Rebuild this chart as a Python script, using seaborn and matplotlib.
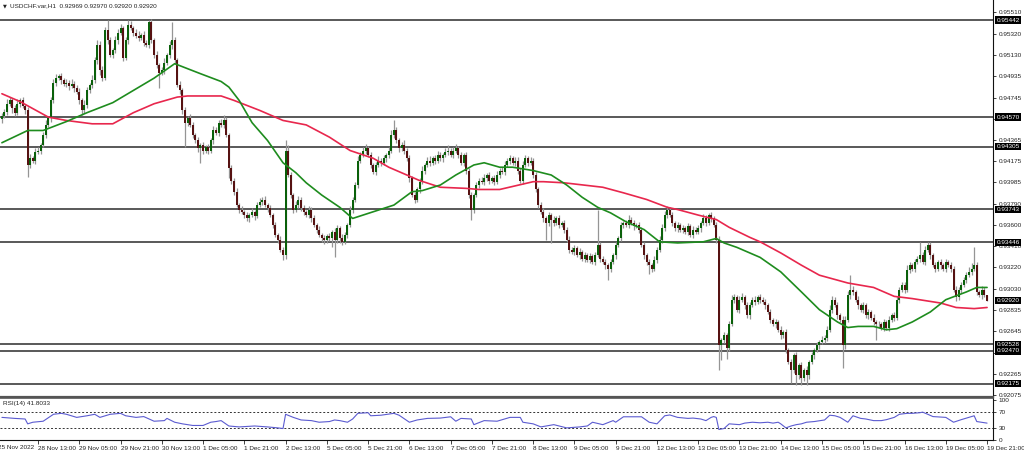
import matplotlib
matplotlib.use("Agg")
import matplotlib.pyplot as plt
import numpy as np
import pandas as pd
import seaborn as sns

# %%
# chart data (prices in 1e-4 units)
first_open = 9455
close_pips = [
    9458, 9462, 9469, 9472, 9465, 9461, 9469, 9472, 9467, 9463,
    9414, 9420, 9418, 9426, 9427, 9432, 9441, 9450, 9456, 9472,
    9488, 9492, 9494, 9490, 9487, 9488, 9485, 9487, 9483, 9480,
    9472, 9463, 9468, 9481, 9486, 9490, 9508, 9522, 9499, 9492,
    9535, 9526, 9513, 9517, 9526, 9533, 9537, 9510, 9526, 9540,
    9537, 9533, 9530, 9528, 9531, 9524, 9522, 9542, 9526, 9513,
    9504, 9497, 9499, 9506, 9513, 9522, 9526, 9508, 9486, 9481,
    9463, 9452, 9456, 9450, 9441, 9436, 9429, 9432, 9427, 9430,
    9427, 9436, 9445, 9443, 9452, 9450, 9454, 9441, 9411, 9400,
    9390, 9378, 9374, 9372, 9369, 9366, 9369, 9372, 9368, 9378,
    9381, 9383, 9378, 9375, 9369, 9360, 9351, 9347, 9338, 9333,
    9427, 9405, 9387, 9374, 9378, 9383, 9375, 9372, 9369, 9374,
    9366, 9360, 9356, 9351, 9348, 9347, 9350, 9348, 9354, 9347,
    9357, 9348, 9345, 9351, 9360, 9374, 9383, 9396, 9418, 9423,
    9427, 9429, 9423, 9414, 9408, 9414, 9418, 9416, 9420, 9423,
    9427, 9441, 9445, 9436, 9429, 9432, 9427, 9420, 9402, 9387,
    9383, 9392, 9399, 9409, 9414, 9418, 9416, 9420, 9418, 9423,
    9420, 9423, 9426, 9427, 9423, 9427, 9429, 9423, 9416, 9423,
    9409, 9387, 9374, 9387, 9396, 9400, 9399, 9402, 9405, 9400,
    9402, 9399, 9405, 9409, 9408, 9414, 9418, 9420, 9416, 9418,
    9409, 9400, 9414, 9420, 9416, 9418, 9405, 9392, 9378, 9372,
    9366, 9362, 9369, 9365, 9362, 9366, 9360, 9362, 9356, 9347,
    9338, 9336, 9339, 9333, 9336, 9330, 9333, 9329, 9332, 9327,
    9333, 9342, 9330, 9327, 9324, 9321, 9327, 9333, 9342, 9348,
    9360, 9362, 9360, 9365, 9362, 9359, 9360, 9356, 9342, 9333,
    9327, 9324, 9321, 9329, 9338, 9347, 9357, 9369, 9374, 9369,
    9362, 9357, 9360, 9356, 9357, 9354, 9359, 9351, 9356, 9354,
    9357, 9362, 9366, 9362, 9369, 9366, 9360, 9347, 9252, 9257,
    9261, 9250, 9271, 9293, 9295, 9284, 9293, 9295, 9288, 9279,
    9288, 9293, 9291, 9295, 9293, 9291, 9288, 9282, 9275, 9271,
    9273, 9266, 9261, 9264, 9248, 9237, 9230, 9243, 9225, 9234,
    9223, 9230, 9225, 9237, 9243, 9248, 9252, 9255, 9257, 9259,
    9266, 9284, 9293, 9288, 9279, 9275, 9252, 9275, 9297, 9302,
    9300, 9293, 9288, 9284, 9288, 9279, 9282, 9277, 9273, 9271,
    9271, 9268, 9273, 9268, 9275, 9279, 9277, 9293, 9302, 9306,
    9302, 9320, 9324, 9321, 9327, 9330, 9333, 9327, 9338, 9342,
    9333, 9324, 9321, 9327, 9324, 9321, 9327, 9324, 9321, 9302,
    9295, 9302, 9306, 9311, 9315, 9318, 9321, 9324, 9300, 9297,
    9302, 9297, 9292,
]
upper_wick_pips = [
    3, 2, 4, 3, 2, 3, 4, 2, 3, 2, 3, 4, 2, 3, 3, 2, 3, 4, 2, 3,
    3, 4, 2, 3, 2, 3, 2, 4, 2, 3, 3, 2, 4, 3, 2, 5, 3, 4, 3, 4,
    3, 9, 3, 2, 4, 3, 4, 2, 3, 4, 3, 2, 3, 4, 2, 3, 2, 2, 3, 2,
    3, 2, 3, 4, 2, 3, 16, 3, 2, 3, 2, 3, 2, 4, 3, 2, 3, 2, 3, 2,
    3, 2, 4, 3, 2, 3, 5, 3, 2, 3, 2, 3, 2, 3, 2, 3, 2, 3, 2, 3,
    3, 2, 3, 2, 3, 2, 3, 2, 3, 2, 9, 5, 3, 2, 4, 3, 2, 3, 2, 3,
    2, 3, 2, 3, 2, 3, 2, 3, 2, 3, 3, 2, 4, 3, 2, 3, 2, 3, 4, 3,
    3, 4, 2, 3, 2, 3, 4, 2, 3, 2, 3, 4, 9, 3, 2, 3, 4, 2, 3, 2,
    3, 2, 3, 4, 2, 3, 4, 2, 3, 4, 3, 2, 3, 5, 2, 3, 4, 2, 3, 2,
    3, 2, 3, 2, 3, 2, 3, 4, 2, 3, 2, 3, 4, 2, 3, 4, 2, 3, 2, 3,
    3, 2, 4, 3, 2, 3, 2, 3, 2, 3, 3, 2, 3, 2, 3, 2, 3, 2, 3, 2,
    3, 2, 3, 2, 3, 2, 3, 2, 3, 2, 3, 32, 3, 2, 3, 2, 3, 2, 3, 2,
    3, 2, 3, 4, 2, 3, 2, 3, 2, 3, 2, 3, 2, 3, 2, 3, 4, 4, 3, 2,
    3, 2, 3, 2, 3, 2, 3, 2, 3, 2, 3, 2, 4, 3, 2, 3, 2, 3, 3, 2,
    3, 2, 3, 4, 3, 2, 3, 4, 2, 3, 3, 2, 3, 2, 3, 2, 3, 2, 3, 2,
    3, 2, 3, 2, 3, 2, 3, 2, 3, 2, 3, 2, 3, 2, 3, 2, 3, 2, 3, 2,
    3, 4, 3, 2, 3, 2, 3, 3, 4, 13, 3, 2, 3, 2, 3, 2, 3, 2, 3, 2,
    3, 2, 3, 2, 3, 2, 3, 3, 2, 3, 3, 4, 3, 2, 3, 2, 12, 3, 3, 3,
    3, 2, 3, 2, 3, 2, 3, 2, 3, 2, 3, 2, 3, 2, 3, 4, 5, 16, 3, 2,
    3, 2, 0,
]
lower_wick_pips = [
    3, 2, 3, 2, 4, 3, 2, 3, 2, 3, 11, 3, 2, 3, 2, 3, 2, 3, 2, 3,
    2, 3, 2, 3, 2, 3, 4, 2, 3, 2, 3, 4, 2, 3, 2, 3, 2, 3, 4, 3,
    2, 3, 2, 3, 2, 3, 2, 3, 2, 3, 2, 3, 2, 3, 2, 3, 2, 3, 2, 3,
    3, 14, 2, 3, 2, 3, 4, 3, 2, 3, 3, 22, 3, 2, 3, 2, 3, 13, 3, 2,
    3, 2, 3, 2, 3, 2, 3, 2, 9, 3, 3, 2, 3, 2, 3, 2, 3, 2, 3, 2,
    2, 3, 2, 3, 2, 3, 2, 3, 2, 4, 3, 2, 3, 3, 2, 3, 2, 3, 2, 3,
    3, 2, 3, 2, 3, 4, 3, 2, 8, 16, 3, 4, 3, 2, 3, 2, 3, 2, 3, 2,
    2, 3, 2, 3, 2, 3, 2, 3, 2, 3, 3, 2, 3, 2, 3, 2, 3, 2, 3, 2,
    3, 2, 3, 2, 3, 2, 3, 2, 3, 2, 2, 3, 2, 3, 2, 3, 2, 3, 2, 3,
    3, 3, 9, 3, 2, 3, 2, 3, 2, 3, 2, 3, 2, 3, 2, 3, 2, 3, 2, 3,
    3, 2, 3, 2, 3, 2, 3, 2, 3, 2, 3, 15, 3, 21, 3, 2, 3, 2, 3, 2,
    3, 2, 3, 2, 3, 2, 3, 2, 3, 2, 3, 2, 3, 2, 3, 10, 3, 2, 3, 2,
    2, 3, 2, 3, 2, 3, 2, 3, 2, 3, 3, 8, 3, 2, 3, 2, 3, 2, 3, 2,
    3, 2, 3, 2, 3, 2, 3, 2, 3, 2, 2, 3, 2, 3, 2, 3, 2, 3, 22, 13,
    3, 10, 3, 2, 3, 2, 3, 2, 3, 2, 3, 2, 3, 2, 3, 2, 3, 2, 3, 2,
    3, 2, 3, 2, 3, 2, 12, 3, 9, 3, 7, 3, 9, 3, 2, 3, 2, 3, 2, 3,
    3, 2, 3, 2, 3, 2, 20, 3, 2, 3, 3, 2, 3, 2, 3, 2, 3, 2, 3, 14,
    3, 2, 3, 2, 3, 2, 3, 2, 3, 2, 3, 2, 3, 2, 3, 2, 3, 2, 3, 2,
    3, 2, 3, 2, 3, 2, 3, 2, 3, 2, 3, 2, 3, 2, 3, 2, 3, 2, 3, 2,
    3, 2, 0,
]

# moving averages (green = fast, red = slow), sampled along the bars
ma_fast_bar = [0, 10, 16, 25, 33, 43, 51, 59, 67, 77, 85, 88, 92, 97, 103, 109, 114, 118, 124, 131,
               136, 144, 152, 159, 163, 170, 176, 183, 187, 193, 198, 206, 213, 219, 225, 231, 236, 242, 249, 255,
               262, 272, 277, 280, 285, 290, 294, 302, 310, 317, 324, 328, 332, 338, 343, 347, 353, 360, 366, 374,
               378, 382]
ma_fast_pips = [9434, 9445, 9445, 9453, 9461, 9470, 9481, 9492, 9505, 9496, 9489, 9484, 9472, 9452, 9436, 9416, 9407, 9398, 9387, 9376,
                9366, 9372, 9378, 9390, 9391, 9396, 9405, 9414, 9416, 9412, 9412, 9409, 9405, 9396, 9385, 9376, 9371, 9363, 9356, 9345,
                9344, 9345, 9348, 9344, 9340, 9335, 9331, 9318, 9300, 9284, 9273, 9268, 9269, 9269, 9266, 9267, 9273, 9282, 9293, 9300,
                9304, 9304]
ma_slow_bar = [0, 7, 18, 25, 35, 43, 51, 59, 68, 72, 85, 90, 100, 109, 118, 127, 135, 144, 150, 157,
               162, 170, 180, 185, 193, 206, 210, 218, 233, 241, 250, 258, 262, 270, 277, 282, 290, 294, 302, 310,
               317, 328, 338, 346, 353, 364, 370, 377, 382]
ma_slow_pips = [9478, 9471, 9457, 9454, 9451, 9451, 9461, 9469, 9475, 9476, 9476, 9472, 9463, 9454, 9450, 9439, 9427, 9420, 9412, 9405,
                9400, 9394, 9393, 9392, 9392, 9399, 9399, 9398, 9394, 9389, 9383, 9376, 9374, 9369, 9365, 9358, 9349, 9345, 9335, 9324,
                9315, 9308, 9304, 9296, 9294, 9290, 9286, 9285, 9286]

# RSI(14)
rsi_bar = [0, 5, 9, 10, 12, 16, 20, 23, 25, 29, 33, 36, 38, 42, 46, 48, 52, 55, 59, 63,
           64, 67, 70, 74, 78, 81, 83, 85, 88, 92, 98, 103, 107, 109, 110, 113, 116, 120, 123, 127,
           129, 131, 134, 136, 138, 142, 143, 147, 152, 154, 158, 161, 165, 170, 174, 176, 178, 182, 183, 187,
           192, 197, 201, 202, 206, 209, 214, 219, 224, 227, 229, 233, 237, 238, 241, 248, 251, 254, 257, 259,
           262, 266, 268, 271, 273, 275, 276, 277, 278, 280, 282, 286, 288, 291, 294, 297, 299, 301, 302, 304,
           306, 308, 310, 312, 315, 319, 321, 323, 325, 328, 330, 333, 335, 338, 341, 343, 346, 348, 351, 353,
           356, 357, 359, 361, 366, 369, 372, 375, 377, 378, 382]
rsi_val = [56, 53.5, 52, 40, 44, 46.5, 63.7, 66, 63.7, 56, 60, 63.7, 56, 63.7, 66, 60, 56, 58, 46.5, 48,
           53.5, 44, 40, 36, 36, 44, 45.7, 48, 34.7, 32.4, 34.7, 32.4, 30, 28.4, 63.7, 56, 49.6, 48, 44, 45.7,
           49.6, 48, 44, 52, 66, 67.6, 60, 61.4, 66, 61.4, 44, 49.6, 53.5, 54.3, 57.5, 46.5, 53.5, 52, 38, 48,
           46.5, 56, 56, 44, 40, 32.4, 38, 30, 32.4, 34.7, 44, 38, 48, 44, 57.5, 57.5, 44, 40, 60, 62,
           56, 53.5, 54.3, 52, 48, 56, 58, 56, 26, 28.4, 40, 38, 41.8, 44, 42.6, 44, 41.8, 44, 40, 30,
           34.7, 38, 40, 44, 45.7, 49.6, 61.4, 60, 56, 44, 60, 53.5, 52, 48, 48, 50.4, 56, 63.7, 66, 66,
           67.6, 69, 63.7, 58, 56, 44, 50.4, 56, 60, 45.7, 41.8033]

levels = [0.95442, 0.94570, 0.94305, 0.93743, 0.93446, 0.92528, 0.92470, 0.92175]
last_price = 0.92920
price_ticks = [0.95510, 0.95320, 0.95130, 0.94935, 0.94745, 0.94555, 0.94365, 0.94175, 0.93985,
               0.93790, 0.93600, 0.93410, 0.93220, 0.93030, 0.92835, 0.92645, 0.92455, 0.92265, 0.92075]
hidden_ticks = [0.94555, 0.92455]  # covered by the level boxes
time_labels = ["28 Nov 13:00", "29 Nov 05:00", "29 Nov 21:00", "30 Nov 13:00", "1 Dec 05:00",
               "1 Dec 21:00", "2 Dec 13:00", "5 Dec 05:00", "5 Dec 21:00", "6 Dec 13:00",
               "7 Dec 05:00", "7 Dec 21:00", "8 Dec 13:00", "9 Dec 05:00", "9 Dec 21:00",
               "12 Dec 13:00", "13 Dec 05:00", "13 Dec 21:00", "14 Dec 13:00", "15 Dec 05:00",
               "15 Dec 21:00", "16 Dec 13:00", "19 Dec 05:00", "19 Dec 21:00"]
first_time_label = "25 Nov 2022"
title = "USDCHF.var,H1  0.92969 0.92970 0.92920 0.92920"

# %%
# build candle table
close = np.array(close_pips) / 10000
open_ = np.r_[first_open / 10000, close[:-1]]
high = np.maximum(open_, close) + np.array(upper_wick_pips) / 10000
low = np.minimum(open_, close) - np.array(lower_wick_pips) / 10000
candles = pd.DataFrame({"bar": np.arange(len(close)), "open": open_, "high": high,
                        "low": low, "close": close})
candles["up"] = candles.close >= candles.open

ma_fast = pd.DataFrame({"bar": ma_fast_bar, "price": np.array(ma_fast_pips) / 10000})
ma_slow = pd.DataFrame({"bar": ma_slow_bar, "price": np.array(ma_slow_pips) / 10000})
rsi = pd.DataFrame({"bar": rsi_bar, "rsi": rsi_val})

# %%
sns.set_style("white")
plt.rcParams['font.family'] = ['Liberation Sans', 'DejaVu Sans']
fs = 4.6

W, H = 1024, 453
fig = plt.figure(figsize=(W / 100, H / 100), dpi=100)
ax = fig.add_axes([0, 1 - 397 / H, 993 / W, 397 / H])
rax = fig.add_axes([0, 1 - 440 / H, 993 / W, 42 / H])

xlim = (-0.74, 384.3)

# levels
for lv in levels:
    ax.axhline(lv, color="#2b2b2b", lw=1.1, zorder=1)

# candles
ax.vlines(candles.bar, candles.low, candles.high, color="#959595", lw=0.9, zorder=2)
body = (candles.close - candles.open).where(lambda s: s.abs() > 0.00002, 0.00002)
ax.bar(candles.bar, body, bottom=candles.open, width=0.78,
       color=np.where(candles.up, "#0a600a", "#561212"), edgecolor="none", zorder=3)

# moving averages
sns.lineplot(data=ma_slow, x="bar", y="price", ax=ax, color="#e8274d", lw=1.2, zorder=4)
sns.lineplot(data=ma_fast, x="bar", y="price", ax=ax, color="#1e8c1e", lw=1.2, zorder=5)

ax.set_xlim(*xlim)
ax.set_ylim(0.92056, 0.95622)
ax.set_xlabel("")
ax.set_ylabel("")
ax.set_xticks([])
ax.yaxis.tick_right()
ax.set_yticks(price_ticks)
ax.set_yticklabels(["" if t in hidden_ticks else f"{t:.5f}" for t in price_ticks])
ax.tick_params(axis="y", labelsize=fs, length=2.5, width=0.6, pad=1.5, colors="#222222", direction="out", right=True)
for s in ["left", "top"]:
    ax.spines[s].set_visible(False)
ax.spines["right"].set_color("#111111")
ax.spines["right"].set_linewidth(0.8)
ax.spines["bottom"].set_color("#555555")
ax.spines["bottom"].set_linewidth(1.6)

# black price boxes
tr = ax.get_yaxis_transform()
for lv in levels + [last_price]:
    ax.text(1.0035, lv, f"{lv:.5f}", transform=tr, ha="left", va="center", fontsize=fs,
            color="white", bbox=dict(boxstyle="square,pad=0.18", fc="black", ec="none"),
            clip_on=False, zorder=10)

fig.text(3 / W, 1 - 5.5 / H, "▼", fontsize=3.6, ha="left", va="center", color="#222222",
         family="DejaVu Sans")
fig.text(10 / W, 1 - 5.5 / H, title, fontsize=fs, ha="left", va="center", color="#222222")

# %%
# RSI pane
rax.axhline(70, color="#333333", lw=0.7, ls=(0, (2, 2)))
rax.axhline(30, color="#333333", lw=0.7, ls=(0, (2, 2)))
sns.lineplot(data=rsi, x="bar", y="rsi", ax=rax, color="#5b5bd0", lw=0.8)
rax.set_xlim(*xlim)
rax.set_ylim(0, 104)
rax.set_xlabel("")
rax.set_ylabel("")
rax.yaxis.tick_right()
rax.set_yticks([0, 30, 70, 100])
rax.set_yticklabels(["0", "30", "70", "100"])
rax.tick_params(axis="y", labelsize=fs, length=2.5, width=0.6, pad=1.5, colors="#222222", right=True)
tick_bars = [14 + 16 * k for k in range(len(time_labels))]
rax.set_xticks(tick_bars)
rax.set_xticklabels(time_labels)
rax.tick_params(axis="x", labelsize=fs, length=3, width=0.6, pad=1.2, colors="#222222", bottom=True)
for lab in rax.get_xticklabels():
    lab.set_ha("left")
rax.spines["left"].set_visible(False)
rax.spines["top"].set_color("#555555")
rax.spines["top"].set_linewidth(1.2)
for s in ["right", "bottom"]:
    rax.spines[s].set_color("#111111")
    rax.spines[s].set_linewidth(0.8)
rax.text(3 / 993, 0.86, "RSI(14) 41.8033", transform=rax.transAxes, fontsize=fs,
         ha="left", va="center", color="#222222")
fig.text(-2 / W, 1 - 447.5 / H, first_time_label, fontsize=fs, ha="left", va="center", color="#222222")

fig.savefig("out.png", dpi=100)
